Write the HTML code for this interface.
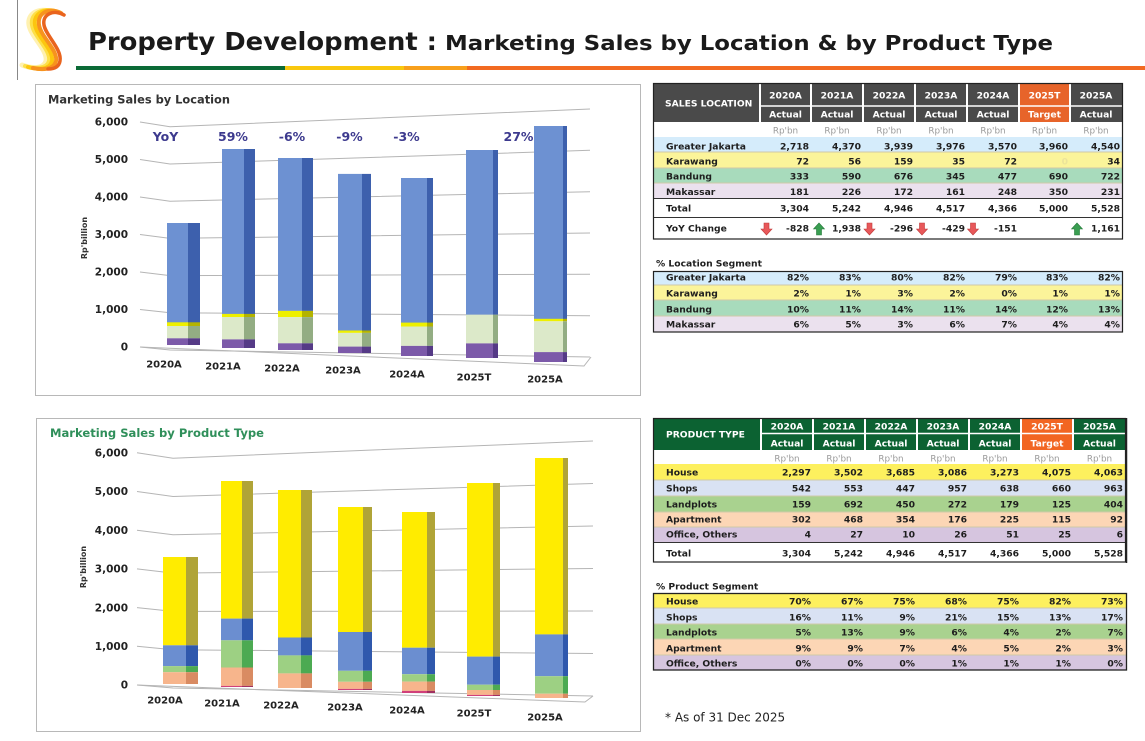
<!DOCTYPE html>
<html><head><meta charset="utf-8">
<style>
html,body{margin:0;padding:0;background:#fff;}
svg{display:block;}
svg text{font-family:"DejaVu Sans","Liberation Sans",Verdana,sans-serif;}
.t{font-size:9.2px;font-weight:bold;fill:#1e1e1e;}
.r{text-anchor:end;}
.c{text-anchor:middle;}
.w{fill:#fff;}
.u{font-size:8.8px;fill:#9a9a9a;text-anchor:middle;}
.yl{font-size:10.5px;font-weight:bold;fill:#222;text-anchor:end;}
.xl{font-size:10px;font-weight:bold;fill:#222;text-anchor:middle;}
.yy{font-size:12.5px;font-weight:bold;fill:#3d3a8e;text-anchor:middle;}
.g{stroke:#b5b5b5;stroke-width:1;fill:none;}
</style></head>
<body>
<svg width="1145" height="741" viewBox="0 0 1145 741" xmlns="http://www.w3.org/2000/svg">
<rect width="1145" height="741" fill="#fff"/>
<!-- page left line -->
<line x1="17.5" y1="0" x2="17.5" y2="80" stroke="#888" stroke-width="1"/>
<!-- logo -->
<g fill="none" stroke-linecap="round">
<path d="M52 12 C40 7,27 13,29 25 C31 37,48 50,46 61 C44 69,32 69,22 65" stroke="#fff1b0" stroke-width="5"/>
<path d="M55 12 C43 7,30 13,32 25 C34 37,51 50,49 61 C47 69,35 69,25 66" stroke="#fde047" stroke-width="4"/>
<path d="M58 12 C46 7,33 13,35 25 C37 37,54 50,52 61 C50 70,38 70,28 67" stroke="#fcc60e" stroke-width="4"/>
<path d="M61 13 C49 7,37 13,39 25 C41 37,58 50,56 61 C54 70,42 70,33 68" stroke="#f7931e" stroke-width="4"/>
<path d="M64 15 C54 9,42 14,44 25 C46 36,62 49,60 61 C59 67,54 69,48 69" stroke="#e9641e" stroke-width="3.5"/>
</g>
<!-- title -->
<text x="88" y="50" font-size="25" font-weight="bold" fill="#1a1a1a" textLength="349" lengthAdjust="spacingAndGlyphs">Property Development :</text>
<text x="445" y="50" font-size="20" font-weight="bold" fill="#1a1a1a" textLength="608" lengthAdjust="spacingAndGlyphs">Marketing Sales by Location &amp; by Product Type</text>
<rect x="76" y="66" width="209" height="4" fill="#0b6a36"/>
<rect x="285" y="66" width="119" height="4" fill="#f9c80e"/>
<rect x="404" y="66" width="63" height="4" fill="#f8a01c"/>
<rect x="467" y="66" width="678" height="4" fill="#f26a21"/>

<!-- ============ TOP CHART ============ -->
<rect x="35.5" y="84.5" width="605" height="311" fill="#fff" stroke="#b8b8b8"/>
<text x="48" y="103.5" font-size="11.5" font-weight="bold" fill="#333" textLength="182" lengthAdjust="spacingAndGlyphs">Marketing Sales by Location</text>
<text transform="translate(87,238) rotate(-90)" font-size="8" font-weight="bold" fill="#333" text-anchor="middle">Rp'billion</text>
<g class="g">
<polyline points="140,122 170,126.8 590,109"/>
<polyline points="140,159.5 170,164 590,150.3"/>
<polyline points="140,197 170,201.2 590,191.7"/>
<polyline points="140,234.5 170,238.4 590,233"/>
<polyline points="140,272 170,275.6 590,274.3"/>
<polyline points="140,309.5 170,312.8 590,315.7"/>
<polyline points="140,347 170,350 590,357"/>
<polyline points="140,347 584,366 591,357"/>
</g>
<g>
<text class="yl" x="128" y="125.7">6,000</text>
<text class="yl" x="128" y="163.2">5,000</text>
<text class="yl" x="128" y="200.7">4,000</text>
<text class="yl" x="128" y="238.2">3,000</text>
<text class="yl" x="128" y="275.7">2,000</text>
<text class="yl" x="128" y="313.2">1,000</text>
<text class="yl" x="128" y="350.7">0</text>
</g>
<!-- bars top -->
<g>
<!-- 2020A -->
<rect x="167" y="223" width="21" height="100.3" fill="#6d91d2"/><rect x="188" y="223" width="12" height="100.3" fill="#3d60ad"/>
<rect x="167" y="322.3" width="21" height="3.7" fill="#eef000"/><rect x="188" y="322.3" width="12" height="3.7" fill="#b3b300"/>
<rect x="167" y="326" width="21" height="12.3" fill="#dce9c9"/><rect x="188" y="326" width="12" height="12.3" fill="#93ad83"/>
<rect x="167" y="338.3" width="21" height="6.7" fill="#7c5aa9"/><rect x="188" y="338.3" width="12" height="6.7" fill="#553a86"/>
<!-- 2021A -->
<rect x="222" y="149" width="22" height="165.9" fill="#6d91d2"/><rect x="244" y="149" width="11" height="165.9" fill="#3d60ad"/>
<rect x="222" y="313.9" width="22" height="3.1" fill="#eef000"/><rect x="244" y="313.9" width="11" height="3.1" fill="#b3b300"/>
<rect x="222" y="317" width="22" height="22.4" fill="#dce9c9"/><rect x="244" y="317" width="11" height="22.4" fill="#93ad83"/>
<rect x="222" y="339.4" width="22" height="8.6" fill="#7c5aa9"/><rect x="244" y="339.4" width="11" height="8.6" fill="#553a86"/>
<!-- 2022A -->
<rect x="278" y="158" width="24" height="152.9" fill="#6d91d2"/><rect x="302" y="158" width="11" height="152.9" fill="#3d60ad"/>
<rect x="278" y="310.9" width="24" height="6.2" fill="#eef000"/><rect x="302" y="310.9" width="11" height="6.2" fill="#b3b300"/>
<rect x="278" y="317.1" width="24" height="26.2" fill="#dce9c9"/><rect x="302" y="317.1" width="11" height="26.2" fill="#93ad83"/>
<rect x="278" y="343.3" width="24" height="6.7" fill="#7c5aa9"/><rect x="302" y="343.3" width="11" height="6.7" fill="#553a86"/>
<!-- 2023A -->
<rect x="338" y="173.9" width="24" height="157.6" fill="#6d91d2"/><rect x="362" y="173.9" width="9" height="157.6" fill="#3d60ad"/>
<rect x="338" y="330.5" width="24" height="2.4" fill="#eef000"/><rect x="362" y="330.5" width="9" height="2.4" fill="#b3b300"/>
<rect x="338" y="332.9" width="24" height="13.7" fill="#dce9c9"/><rect x="362" y="332.9" width="9" height="13.7" fill="#93ad83"/>
<rect x="338" y="346.6" width="24" height="6.4" fill="#7c5aa9"/><rect x="362" y="346.6" width="9" height="6.4" fill="#553a86"/>
<!-- 2024A -->
<rect x="401" y="178" width="26" height="145.6" fill="#6d91d2"/><rect x="427" y="178" width="6" height="145.6" fill="#3d60ad"/>
<rect x="401" y="322.6" width="26" height="3.9" fill="#eef000"/><rect x="427" y="322.6" width="6" height="3.9" fill="#b3b300"/>
<rect x="401" y="326.5" width="26" height="19.4" fill="#dce9c9"/><rect x="427" y="326.5" width="6" height="19.4" fill="#93ad83"/>
<rect x="401" y="345.9" width="26" height="10.1" fill="#7c5aa9"/><rect x="427" y="345.9" width="6" height="10.1" fill="#553a86"/>
<!-- 2025T -->
<rect x="466" y="150" width="27" height="164.7" fill="#6d91d2"/><rect x="493" y="150" width="5" height="164.7" fill="#3d60ad"/>
<rect x="466" y="314.7" width="27" height="28.7" fill="#dce9c9"/><rect x="493" y="314.7" width="5" height="28.7" fill="#93ad83"/>
<rect x="466" y="343.4" width="27" height="14.6" fill="#7c5aa9"/><rect x="493" y="343.4" width="5" height="14.6" fill="#553a86"/>
<!-- 2025A -->
<rect x="534" y="126" width="29" height="193.8" fill="#6d91d2"/><rect x="563" y="126" width="4" height="193.8" fill="#3d60ad"/>
<rect x="534" y="318.8" width="29" height="2.5" fill="#eef000"/><rect x="563" y="318.8" width="4" height="2.5" fill="#b3b300"/>
<rect x="534" y="321.3" width="29" height="30.8" fill="#dce9c9"/><rect x="563" y="321.3" width="4" height="30.8" fill="#93ad83"/>
<rect x="534" y="352.1" width="29" height="9.9" fill="#7c5aa9"/><rect x="563" y="352.1" width="4" height="9.9" fill="#553a86"/>
</g>
<g>
<text class="yy" x="165.5" y="141">YoY</text>
<text class="yy" x="233" y="141">59%</text>
<text class="yy" x="292" y="141">-6%</text>
<text class="yy" x="349.5" y="141">-9%</text>
<text class="yy" x="406.5" y="141">-3%</text>
<text class="yy" x="518.5" y="141">27%</text>
</g>
<g>
<text class="xl" x="164" y="367.5">2020A</text>
<text class="xl" x="223" y="369.5">2021A</text>
<text class="xl" x="282" y="371.5">2022A</text>
<text class="xl" x="343" y="373.5">2023A</text>
<text class="xl" x="407" y="377.5">2024A</text>
<text class="xl" x="474" y="380.5">2025T</text>
<text class="xl" x="545" y="382.5">2025A</text>
</g>

<!-- ============ BOTTOM CHART ============ -->
<rect x="36.5" y="418.5" width="604" height="313" fill="#fff" stroke="#b8b8b8"/>
<text x="50" y="437" font-size="11.5" font-weight="bold" fill="#2f8f5a" textLength="214" lengthAdjust="spacingAndGlyphs">Marketing Sales by Product Type</text>
<text transform="translate(86,567) rotate(-90)" font-size="8" font-weight="bold" fill="#333" text-anchor="middle">Rp'billion</text>
<g class="g">
<polyline points="137,452.8 173,458.2 593,441"/>
<polyline points="137,491.5 173,496.5 593,483.5"/>
<polyline points="137,530.2 173,534.8 593,526"/>
<polyline points="137,568.9 173,573.1 593,568.5"/>
<polyline points="137,607.6 173,611.4 593,611"/>
<polyline points="137,646.3 173,649.7 593,653.5"/>
<polyline points="137,685 173,688 593,696"/>
<polyline points="137,685 585,702 593,696"/>
</g>
<g>
<text class="yl" x="128" y="456.5">6,000</text>
<text class="yl" x="128" y="495.2">5,000</text>
<text class="yl" x="128" y="533.9">4,000</text>
<text class="yl" x="128" y="572.6">3,000</text>
<text class="yl" x="128" y="611.3">2,000</text>
<text class="yl" x="128" y="650">1,000</text>
<text class="yl" x="128" y="688.7">0</text>
</g>
<g>
<!-- 2020A -->
<rect x="163" y="557" width="23" height="88.3" fill="#ffec00"/><rect x="186" y="557" width="12" height="88.3" fill="#b0a437"/>
<rect x="163" y="645.3" width="23" height="20.8" fill="#6b8ed0"/><rect x="186" y="645.3" width="12" height="20.8" fill="#2f58ad"/>
<rect x="163" y="666.1" width="23" height="6.1" fill="#9dd083"/><rect x="186" y="666.1" width="12" height="6.1" fill="#4caa52"/>
<rect x="163" y="672.2" width="23" height="11.8" fill="#f7b58c"/><rect x="186" y="672.2" width="12" height="11.8" fill="#d98b62"/>
<!-- 2021A -->
<rect x="221" y="481" width="21" height="137.6" fill="#ffec00"/><rect x="242" y="481" width="11" height="137.6" fill="#b0a437"/>
<rect x="221" y="618.6" width="21" height="21.7" fill="#6b8ed0"/><rect x="242" y="618.6" width="11" height="21.7" fill="#2f58ad"/>
<rect x="221" y="640.3" width="21" height="27.2" fill="#9dd083"/><rect x="242" y="640.3" width="11" height="27.2" fill="#4caa52"/>
<rect x="221" y="667.5" width="21" height="18.4" fill="#f7b58c"/><rect x="242" y="667.5" width="11" height="18.4" fill="#d98b62"/>
<rect x="221" y="685.9" width="21" height="1.1" fill="#d0407a"/><rect x="242" y="685.9" width="11" height="1.1" fill="#a03060"/>
<!-- 2022A -->
<rect x="278" y="490" width="23" height="147.5" fill="#ffec00"/><rect x="301" y="490" width="11" height="147.5" fill="#b0a437"/>
<rect x="278" y="637.5" width="23" height="17.9" fill="#6b8ed0"/><rect x="301" y="637.5" width="11" height="17.9" fill="#2f58ad"/>
<rect x="278" y="655.4" width="23" height="18" fill="#9dd083"/><rect x="301" y="655.4" width="11" height="18" fill="#4caa52"/>
<rect x="278" y="673.4" width="23" height="14.6" fill="#f7b58c"/><rect x="301" y="673.4" width="11" height="14.6" fill="#d98b62"/>
<!-- 2023A -->
<rect x="338" y="507" width="25" height="125" fill="#ffec00"/><rect x="363" y="507" width="9" height="125" fill="#b0a437"/>
<rect x="338" y="632" width="25" height="38.8" fill="#6b8ed0"/><rect x="363" y="632" width="9" height="38.8" fill="#2f58ad"/>
<rect x="338" y="670.8" width="25" height="11" fill="#9dd083"/><rect x="363" y="670.8" width="9" height="11" fill="#4caa52"/>
<rect x="338" y="681.8" width="25" height="7.1" fill="#f7b58c"/><rect x="363" y="681.8" width="9" height="7.1" fill="#d98b62"/>
<rect x="338" y="688.9" width="25" height="1.1" fill="#d0407a"/><rect x="363" y="688.9" width="9" height="1.1" fill="#a03060"/>
<!-- 2024A -->
<rect x="402" y="512" width="25" height="135.7" fill="#ffec00"/><rect x="427" y="512" width="8" height="135.7" fill="#b0a437"/>
<rect x="402" y="647.7" width="25" height="26.5" fill="#6b8ed0"/><rect x="427" y="647.7" width="8" height="26.5" fill="#2f58ad"/>
<rect x="402" y="674.2" width="25" height="7.4" fill="#9dd083"/><rect x="427" y="674.2" width="8" height="7.4" fill="#4caa52"/>
<rect x="402" y="681.6" width="25" height="9.3" fill="#f7b58c"/><rect x="427" y="681.6" width="8" height="9.3" fill="#d98b62"/>
<rect x="402" y="690.9" width="25" height="2.1" fill="#d0407a"/><rect x="427" y="690.9" width="8" height="2.1" fill="#a03060"/>
<!-- 2025T -->
<rect x="467" y="483" width="26" height="173.6" fill="#ffec00"/><rect x="493" y="483" width="7" height="173.6" fill="#b0a437"/>
<rect x="467" y="656.6" width="26" height="28.1" fill="#6b8ed0"/><rect x="493" y="656.6" width="7" height="28.1" fill="#2f58ad"/>
<rect x="467" y="684.7" width="26" height="5.3" fill="#9dd083"/><rect x="493" y="684.7" width="7" height="5.3" fill="#4caa52"/>
<rect x="467" y="690" width="26" height="4.9" fill="#f7b58c"/><rect x="493" y="690" width="7" height="4.9" fill="#d98b62"/>
<rect x="467" y="694.9" width="26" height="1.1" fill="#d0407a"/><rect x="493" y="694.9" width="7" height="1.1" fill="#a03060"/>
<!-- 2025A -->
<rect x="535" y="458" width="28" height="176.4" fill="#ffec00"/><rect x="563" y="458" width="5" height="176.4" fill="#b0a437"/>
<rect x="535" y="634.4" width="28" height="41.8" fill="#6b8ed0"/><rect x="563" y="634.4" width="5" height="41.8" fill="#2f58ad"/>
<rect x="535" y="676.2" width="28" height="17.5" fill="#9dd083"/><rect x="563" y="676.2" width="5" height="17.5" fill="#4caa52"/>
<rect x="535" y="693.7" width="28" height="4.3" fill="#f7b58c"/><rect x="563" y="693.7" width="5" height="4.3" fill="#d98b62"/>
</g>
<g>
<text class="xl" x="165" y="703.5">2020A</text>
<text class="xl" x="222" y="706.5">2021A</text>
<text class="xl" x="281" y="708.5">2022A</text>
<text class="xl" x="345" y="710.5">2023A</text>
<text class="xl" x="407" y="713.5">2024A</text>
<text class="xl" x="474" y="716.5">2025T</text>
<text class="xl" x="545" y="720.5">2025A</text>
</g>

<!-- ============ TOP TABLE ============ -->
<rect x="653" y="83" width="470" height="39" fill="#4a4a4a"/>
<rect x="1019" y="83" width="51" height="39" fill="#e7642a"/>
<g stroke="#fff" stroke-width="2">
<line x1="760" y1="83" x2="760" y2="122"/><line x1="811" y1="83" x2="811" y2="122"/>
<line x1="863" y1="83" x2="863" y2="122"/><line x1="915" y1="83" x2="915" y2="122"/>
<line x1="967" y1="83" x2="967" y2="122"/><line x1="1019" y1="83" x2="1019" y2="122"/>
<line x1="1070" y1="83" x2="1070" y2="122"/>
<line x1="760" y1="106" x2="1122" y2="106" stroke-width="1.5"/>
</g>
<rect x="653" y="137" width="470" height="15" fill="#d5ecfb"/>
<rect x="653" y="152" width="470" height="16" fill="#fbf49a"/>
<rect x="653" y="168" width="470" height="15" fill="#a8dbbc"/>
<rect x="653" y="183" width="470" height="15" fill="#ebe1ee"/>
<g stroke-width="1">
<line x1="653" y1="152" x2="1123" y2="152" stroke="#cfc9a8"/>
<line x1="653" y1="168" x2="1123" y2="168" stroke="#cfc9a8"/>
<line x1="653" y1="183" x2="1123" y2="183" stroke="#cfc9a8"/>
<line x1="653" y1="198.5" x2="1123" y2="198.5" stroke="#333"/>
<line x1="653" y1="217.5" x2="1123" y2="217.5" stroke="#333"/>
</g>
<rect x="653.5" y="83.5" width="469" height="155.5" fill="none" stroke="#222" stroke-width="1.2"/>
<text class="t w" x="665" y="106.3">SALES LOCATION</text>
<text class="t w c" y="98.5"><tspan x="785.5">2020A</tspan><tspan x="837">2021A</tspan><tspan x="889">2022A</tspan><tspan x="941">2023A</tspan><tspan x="993">2024A</tspan><tspan x="1044.5">2025T</tspan><tspan x="1096">2025A</tspan></text>
<text class="t w c" y="117.3"><tspan x="785.5">Actual</tspan><tspan x="837">Actual</tspan><tspan x="889">Actual</tspan><tspan x="941">Actual</tspan><tspan x="993">Actual</tspan><tspan x="1044.5">Target</tspan><tspan x="1096">Actual</tspan></text>
<text class="u" y="133.3"><tspan x="785.5">Rp'bn</tspan><tspan x="837">Rp'bn</tspan><tspan x="889">Rp'bn</tspan><tspan x="941">Rp'bn</tspan><tspan x="993">Rp'bn</tspan><tspan x="1044.5">Rp'bn</tspan><tspan x="1096">Rp'bn</tspan></text>
<text class="t" x="666" y="149.3">Greater Jakarta</text>
<text class="t r" y="149.3"><tspan x="809">2,718</tspan><tspan x="861">4,370</tspan><tspan x="913">3,939</tspan><tspan x="965">3,976</tspan><tspan x="1017">3,570</tspan><tspan x="1068">3,960</tspan><tspan x="1120">4,540</tspan></text>
<text class="t" x="666" y="164.3">Karawang</text>
<text class="t r" y="164.3"><tspan x="809">72</tspan><tspan x="861">56</tspan><tspan x="913">159</tspan><tspan x="965">35</tspan><tspan x="1017">72</tspan><tspan x="1068" fill="#ece49a">0</tspan><tspan x="1120">34</tspan></text>
<text class="t" x="666" y="179.3">Bandung</text>
<text class="t r" y="179.3"><tspan x="809">333</tspan><tspan x="861">590</tspan><tspan x="913">676</tspan><tspan x="965">345</tspan><tspan x="1017">477</tspan><tspan x="1068">690</tspan><tspan x="1120">722</tspan></text>
<text class="t" x="666" y="195">Makassar</text>
<text class="t r" y="195"><tspan x="809">181</tspan><tspan x="861">226</tspan><tspan x="913">172</tspan><tspan x="965">161</tspan><tspan x="1017">248</tspan><tspan x="1068">350</tspan><tspan x="1120">231</tspan></text>
<text class="t" x="666" y="211.3">Total</text>
<text class="t r" y="211.3"><tspan x="809">3,304</tspan><tspan x="861">5,242</tspan><tspan x="913">4,946</tspan><tspan x="965">4,517</tspan><tspan x="1017">4,366</tspan><tspan x="1068">5,000</tspan><tspan x="1120">5,528</tspan></text>
<text class="t" x="666" y="231.3">YoY Change</text>
<text class="t r" y="231.3"><tspan x="809">-828</tspan><tspan x="861">1,938</tspan><tspan x="913">-296</tspan><tspan x="965">-429</tspan><tspan x="1017">-151</tspan><tspan x="1120">1,161</tspan></text>
<!-- arrows -->
<g>
<path d="M764 223h5v6h3l-5.5 6l-5.5-6h3z" fill="#e8585a" stroke="#c03a3a" stroke-width="0.6"/>
<path d="M816.5 235h5v-6h3l-5.5-6l-5.5 6h3z" fill="#3a9e52" stroke="#257a3a" stroke-width="0.6"/>
<path d="M867 223h5v6h3l-5.5 6l-5.5-6h3z" fill="#e8585a" stroke="#c03a3a" stroke-width="0.6"/>
<path d="M919.5 223h5v6h3l-5.5 6l-5.5-6h3z" fill="#e8585a" stroke="#c03a3a" stroke-width="0.6"/>
<path d="M970.5 223h5v6h3l-5.5 6l-5.5-6h3z" fill="#e8585a" stroke="#c03a3a" stroke-width="0.6"/>
<path d="M1074.5 235h5v-6h3l-5.5-6l-5.5 6h3z" fill="#3a9e52" stroke="#257a3a" stroke-width="0.6"/>
</g>

<!-- % Location Segment -->
<text class="t" x="656" y="266.3">% Location Segment</text>
<rect x="653" y="271" width="470" height="14" fill="#d5ecfb"/>
<rect x="653" y="285" width="470" height="15" fill="#fbf49a"/>
<rect x="653" y="300" width="470" height="16" fill="#a8dbbc"/>
<rect x="653" y="316" width="470" height="16" fill="#ebe1ee"/>
<g stroke="#cfc9a8" stroke-width="1">
<line x1="653" y1="285" x2="1123" y2="285"/><line x1="653" y1="300" x2="1123" y2="300"/><line x1="653" y1="316" x2="1123" y2="316"/>
</g>
<rect x="653.5" y="271.5" width="469" height="60.5" fill="none" stroke="#222" stroke-width="1.2"/>
<text class="t" x="666" y="280.5">Greater Jakarta</text>
<text class="t r" y="280.5"><tspan x="809">82%</tspan><tspan x="861">83%</tspan><tspan x="913">80%</tspan><tspan x="965">82%</tspan><tspan x="1017">79%</tspan><tspan x="1068">83%</tspan><tspan x="1120">82%</tspan></text>
<text class="t" x="666" y="296.3">Karawang</text>
<text class="t r" y="296.3"><tspan x="809">2%</tspan><tspan x="861">1%</tspan><tspan x="913">3%</tspan><tspan x="965">2%</tspan><tspan x="1017">0%</tspan><tspan x="1068">1%</tspan><tspan x="1120">1%</tspan></text>
<text class="t" x="666" y="312.3">Bandung</text>
<text class="t r" y="312.3"><tspan x="809">10%</tspan><tspan x="861">11%</tspan><tspan x="913">14%</tspan><tspan x="965">11%</tspan><tspan x="1017">14%</tspan><tspan x="1068">12%</tspan><tspan x="1120">13%</tspan></text>
<text class="t" x="666" y="327.5">Makassar</text>
<text class="t r" y="327.5"><tspan x="809">6%</tspan><tspan x="861">5%</tspan><tspan x="913">3%</tspan><tspan x="965">6%</tspan><tspan x="1017">7%</tspan><tspan x="1068">4%</tspan><tspan x="1120">4%</tspan></text>

<!-- ============ BOTTOM TABLE ============ -->
<rect x="653" y="418" width="473" height="32" fill="#0c6232"/>
<rect x="1021" y="418" width="52" height="32" fill="#f26522"/>
<g stroke="#fff" stroke-width="2">
<line x1="761" y1="418" x2="761" y2="450"/><line x1="813" y1="418" x2="813" y2="450"/>
<line x1="865" y1="418" x2="865" y2="450"/><line x1="917" y1="418" x2="917" y2="450"/>
<line x1="969" y1="418" x2="969" y2="450"/><line x1="1021" y1="418" x2="1021" y2="450"/>
<line x1="1073" y1="418" x2="1073" y2="450"/>
<line x1="761" y1="433.5" x2="1125" y2="433.5" stroke-width="1.5"/>
</g>
<rect x="653" y="464" width="473" height="16" fill="#fdf05e"/>
<rect x="653" y="480" width="473" height="16" fill="#d9e2f3"/>
<rect x="653" y="496" width="473" height="16" fill="#a9d28f"/>
<rect x="653" y="512" width="473" height="15" fill="#fcd6b5"/>
<rect x="653" y="527" width="473" height="15" fill="#d6c5df"/>
<g stroke="#cfc9a8" stroke-width="1">
<line x1="653" y1="480" x2="1126" y2="480"/><line x1="653" y1="496" x2="1126" y2="496"/>
<line x1="653" y1="512" x2="1126" y2="512"/><line x1="653" y1="527" x2="1126" y2="527"/>
</g>
<line x1="653" y1="542.5" x2="1126" y2="542.5" stroke="#333" stroke-width="1"/>
<rect x="653.5" y="418.5" width="472" height="143.5" fill="none" stroke="#222" stroke-width="1.2"/>
<line x1="1126.5" y1="418" x2="1126.5" y2="563" stroke="#222" stroke-width="1.5"/>
<text class="t w" x="666" y="437.3">PRODUCT TYPE</text>
<text class="t w c" y="429.3"><tspan x="787">2020A</tspan><tspan x="839">2021A</tspan><tspan x="891">2022A</tspan><tspan x="943">2023A</tspan><tspan x="995">2024A</tspan><tspan x="1047">2025T</tspan><tspan x="1099.5">2025A</tspan></text>
<text class="t w c" y="446.3"><tspan x="787">Actual</tspan><tspan x="839">Actual</tspan><tspan x="891">Actual</tspan><tspan x="943">Actual</tspan><tspan x="995">Actual</tspan><tspan x="1047">Target</tspan><tspan x="1099.5">Actual</tspan></text>
<text class="u" y="461.3"><tspan x="787">Rp'bn</tspan><tspan x="839">Rp'bn</tspan><tspan x="891">Rp'bn</tspan><tspan x="943">Rp'bn</tspan><tspan x="995">Rp'bn</tspan><tspan x="1047">Rp'bn</tspan><tspan x="1099.5">Rp'bn</tspan></text>
<text class="t" x="666" y="475.3">House</text>
<text class="t r" y="475.3"><tspan x="811">2,297</tspan><tspan x="863">3,502</tspan><tspan x="915">3,685</tspan><tspan x="967">3,086</tspan><tspan x="1019">3,273</tspan><tspan x="1071">4,075</tspan><tspan x="1123">4,063</tspan></text>
<text class="t" x="666" y="491.3">Shops</text>
<text class="t r" y="491.3"><tspan x="811">542</tspan><tspan x="863">553</tspan><tspan x="915">447</tspan><tspan x="967">957</tspan><tspan x="1019">638</tspan><tspan x="1071">660</tspan><tspan x="1123">963</tspan></text>
<text class="t" x="666" y="507.3">Landplots</text>
<text class="t r" y="507.3"><tspan x="811">159</tspan><tspan x="863">692</tspan><tspan x="915">450</tspan><tspan x="967">272</tspan><tspan x="1019">179</tspan><tspan x="1071">125</tspan><tspan x="1123">404</tspan></text>
<text class="t" x="666" y="522.3">Apartment</text>
<text class="t r" y="522.3"><tspan x="811">302</tspan><tspan x="863">468</tspan><tspan x="915">354</tspan><tspan x="967">176</tspan><tspan x="1019">225</tspan><tspan x="1071">115</tspan><tspan x="1123">92</tspan></text>
<text class="t" x="666" y="537.3">Office, Others</text>
<text class="t r" y="537.3"><tspan x="811">4</tspan><tspan x="863">27</tspan><tspan x="915">10</tspan><tspan x="967">26</tspan><tspan x="1019">51</tspan><tspan x="1071">25</tspan><tspan x="1123">6</tspan></text>
<text class="t" x="666" y="556.3">Total</text>
<text class="t r" y="556.3"><tspan x="811">3,304</tspan><tspan x="863">5,242</tspan><tspan x="915">4,946</tspan><tspan x="967">4,517</tspan><tspan x="1019">4,366</tspan><tspan x="1071">5,000</tspan><tspan x="1123">5,528</tspan></text>

<!-- % Product Segment -->
<text class="t" x="656" y="589.3">% Product Segment</text>
<rect x="653" y="593" width="474" height="15" fill="#fdf05e"/>
<rect x="653" y="608" width="474" height="16" fill="#d9e2f3"/>
<rect x="653" y="624" width="474" height="15" fill="#a9d28f"/>
<rect x="653" y="639" width="474" height="16" fill="#fcd6b5"/>
<rect x="653" y="655" width="474" height="15" fill="#d6c5df"/>
<g stroke="#cfc9a8" stroke-width="1">
<line x1="653" y1="608" x2="1127" y2="608"/><line x1="653" y1="624" x2="1127" y2="624"/>
<line x1="653" y1="639" x2="1127" y2="639"/><line x1="653" y1="655" x2="1127" y2="655"/>
</g>
<rect x="653.5" y="593.5" width="473" height="76.5" fill="none" stroke="#222" stroke-width="1.3"/>
<text class="t" x="666" y="604.3">House</text>
<text class="t r" y="604.3"><tspan x="811">70%</tspan><tspan x="863">67%</tspan><tspan x="915">75%</tspan><tspan x="967">68%</tspan><tspan x="1019">75%</tspan><tspan x="1071">82%</tspan><tspan x="1123">73%</tspan></text>
<text class="t" x="666" y="620.3">Shops</text>
<text class="t r" y="620.3"><tspan x="811">16%</tspan><tspan x="863">11%</tspan><tspan x="915">9%</tspan><tspan x="967">21%</tspan><tspan x="1019">15%</tspan><tspan x="1071">13%</tspan><tspan x="1123">17%</tspan></text>
<text class="t" x="666" y="635.3">Landplots</text>
<text class="t r" y="635.3"><tspan x="811">5%</tspan><tspan x="863">13%</tspan><tspan x="915">9%</tspan><tspan x="967">6%</tspan><tspan x="1019">4%</tspan><tspan x="1071">2%</tspan><tspan x="1123">7%</tspan></text>
<text class="t" x="666" y="651.3">Apartment</text>
<text class="t r" y="651.3"><tspan x="811">9%</tspan><tspan x="863">9%</tspan><tspan x="915">7%</tspan><tspan x="967">4%</tspan><tspan x="1019">5%</tspan><tspan x="1071">2%</tspan><tspan x="1123">3%</tspan></text>
<text class="t" x="666" y="666.3">Office, Others</text>
<text class="t r" y="666.3"><tspan x="811">0%</tspan><tspan x="863">0%</tspan><tspan x="915">0%</tspan><tspan x="967">1%</tspan><tspan x="1019">1%</tspan><tspan x="1071">1%</tspan><tspan x="1123">0%</tspan></text>

<text x="665" y="721.3" font-size="12" fill="#222">* As of 31 Dec 2025</text>
</svg>
</body></html>
